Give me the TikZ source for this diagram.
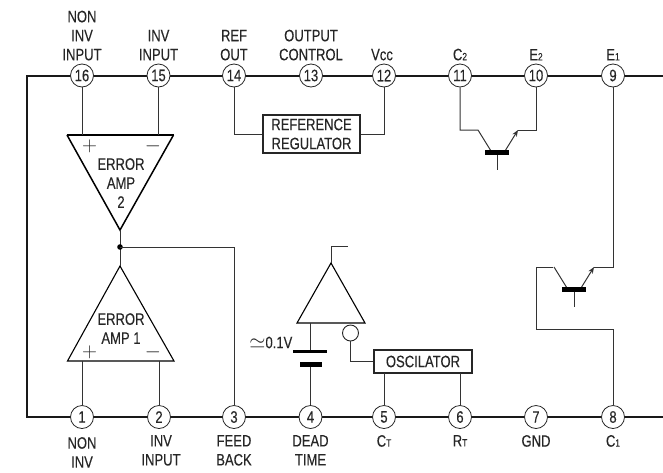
\documentclass[tikz,border=0pt]{standalone}
\usepackage{fontspec}
\setmainfont[FakeStretch=0.79,FakeBold=0.2]{Liberation Sans}
\usetikzlibrary{positioning,arrows.meta}
\newcommand{\smallidx}[1]{{\fontsize{10.5}{10}\selectfont #1}}
\begin{document}
\begin{tikzpicture}[x=1pt, y=-1pt, line join=miter, >={Stealth[length=6.5pt,width=5pt]},
	font=\fontsize{16.5}{19}\selectfont, text=black!85]
	\tikzset{pinnode/.style={circle, draw=black!85, line width=0.8pt, fill=white, inner sep=0pt, minimum size=23pt, font=\fontsize{16.5}{16}\selectfont}}
	\tikzset{pinlabel/.style={align=center, inner sep=0pt}}
	\tikzset{bus/.style={line width=2pt, black!90}}
	\tikzset{wire/.style={line width=1pt, black!80}}
	\tikzset{box/.style={draw=black!85, line width=1.1pt, align=center, inner sep=0pt}}
	\tikzset{amp/.style={draw=black, line width=1.1pt}}
	\tikzset{sign/.style={inner sep=0pt, font=\fontsize{20.74}{20}\selectfont}}

	\useasboundingbox (0,0) rectangle (663,472);

	% package outline
	\coordinate (topR) at (663,75.5);
	\coordinate (topL) at (27,75.5);
	\coordinate (botL) at (27,417);
	\coordinate (botR) at (663,417);
	\draw[bus] (topR)--(topL)--(botL)--(botR);

	% pins
	\foreach \x/\n in {82/16,158.5/15,234/14,311/13,384/12,460/11,536/10,613/9}
	\node[pinnode] (p\n) at (\x,75.5) {\n};
	\foreach \x/\n in {82/1,159/2,234/3,310.5/4,384/5,460/6,536/7,613/8}
	\node[pinnode] (p\n) at (\x,417) {\n};

	% pin labels
	\foreach \n/\txt in {16/{NON\\INV\\INPUT},15/{INV\\INPUT},14/{REF\\OUT},13/{OUTPUT\\CONTROL},11/{C\smallidx{2}},10/{E\smallidx{2}},9/{E\smallidx{1}}}
	\node[pinlabel, above=3pt of p\n] (t\n) {\txt};
	\node[pinlabel, above=3pt of p12, xshift=-2pt] (t12) {Vcc};
	\foreach \n/\txt in {3/{FEED\\BACK},4/{DEAD\\TIME},5/{C\smallidx{T}},6/{R\smallidx{T}},7/{GND},8/{C\smallidx{1}}}
	\node[pinlabel, below=6pt of p\n] (t\n) {\txt};
	\node[pinlabel, below=6pt of p2, xshift=2pt] (t2) {INV\\INPUT};
	\node[pinlabel, below=8pt of p1] (t1) {NON\\INV};

	% error amp 2
	\coordinate (aTL) at (67,135);
	\coordinate (aTR) at (173.5,135);
	\coordinate (aTip) at (120,230);
	\draw[amp, line width=1.5pt] (aTL)--(aTip)--(aTR);
	\draw[line width=2pt, black] ([xshift=-0.5pt]aTL)--([xshift=0.5pt]aTR);
	\coordinate (aP) at (82,135);
	\coordinate (aM) at (158.5,135);
	\draw[wire] (p16)--(aP);
	\draw[wire] (p15)--(aM);
	\node[sign] (aPlus) at (89.5,146) {$+$};
	\node[sign] (aMinus) at (153,146) {$-$};
	\node[align=center, inner sep=0pt] (aText) at (121,183) {ERROR\\AMP\\2};

	% error amp 1
	\coordinate (bBL) at (67.5,361);
	\coordinate (bBR) at (174,361);
	\coordinate (bTip) at (120,266);
	\draw[amp] (bBL)--(bTip)--(bBR)--cycle;
	\coordinate (bP) at (82,361);
	\coordinate (bM) at (159,361);
	\draw[wire] (p1)--(bP);
	\draw[wire] (p2)--(bM);
	\node[sign] (bPlus) at (89.5,352) {$+$};
	\node[sign] (bMinus) at (153,352) {$-$};
	\node[align=center, inner sep=0pt] (bText) at (121,328.5) {ERROR\\AMP 1};

	% feedback
	\coordinate (jn) at (120,247);
	\draw[wire] (aTip)--(bTip);
	\fill[black] (jn) circle (2.8pt);
	\draw[wire] (jn)-|(p3);

	% reference regulator
	\node[box, minimum width=97pt, minimum height=38pt] (refreg) at (311.5,134) {REFERENCE\\REGULATOR};
	\draw[wire] (p14)|-(refreg);
	\draw[wire] (p12)|-(refreg);

	% output transistor 2
	\coordinate (qTc) at (478,130);
	\coordinate (qTe) at (518,130);
	\draw[wire] (p11)|-(qTc)--(491,151);
	\draw[wire] (p10)|-(qTe);
	\draw[wire,->] (505,151)--(qTe);
	\fill[black] (485,150) rectangle (509,155);
	\draw[wire] (497,155)--(497,170);

	% output transistor 1
	\coordinate (qBc) at (554,267);
	\coordinate (qBe) at (594,267);
	\coordinate (qBl) at (536,267);
	\coordinate (qBk) at (536,329);
	\draw[wire] (p9)|-(qBe);
	\draw[wire,->] (581,288)--(qBe);
	\draw[wire] (552.5,267)--(qBl)--(qBk)-|(p8);
	\draw[wire] (qBc)--(567,288);
	\fill[black] (562,287) rectangle (586,292);
	\draw[wire] (574,292)--(574,307);

	% dead time comparator
	\coordinate (cL) at (297,323);
	\coordinate (cR) at (365,323);
	\coordinate (cTip) at (331,263);
	\draw[amp] (cL)--(cTip)--(cR)--cycle;
	\draw[wire] (cTip)--(331,246)--(348,246);
	\node[circle, draw=black!85, line width=0.9pt, inner sep=0pt, minimum size=16pt] (bubble) at (350.5,333) {};

	% oscillator
	\node[box, minimum width=98pt, minimum height=23pt] (osc) at (423,361.5) {OSCILATOR};
	\draw[wire] (bubble)|-(osc);
	\draw[wire] (p5)--(384,373);
	\draw[wire] (p6)--(460,373);

	% reference cell
	\coordinate (cBase) at (310.5,323);
	\draw[wire] (cBase)--(310.5,351);
	\fill[black] (293,349.5) rectangle (327,352.5);
	\fill[black] (299.5,362) rectangle (321.5,367);
	\draw[wire] (310.5,367)--(p4);
	\node[anchor=east, inner sep=0pt] (vref) at (292.5,342.5) {{\fontsize{20.74}{20}\selectfont$\simeq$}0.1V};
\end{tikzpicture}
\end{document}
